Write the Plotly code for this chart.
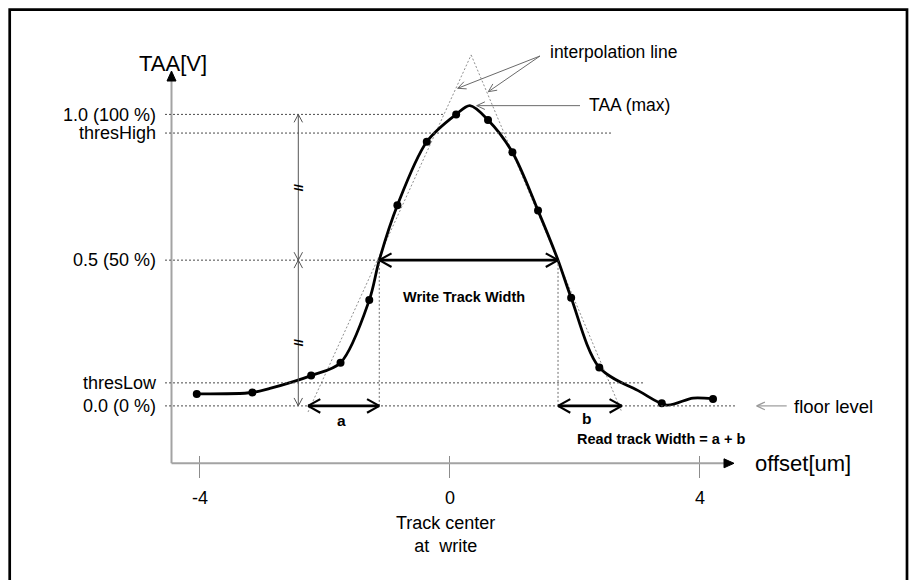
import math
import plotly.graph_objects as go

W, H = 913, 580

# ---------------- data ----------------
# measured TAA samples across the read offset
offset_um = [-4.05, -3.16, -2.22, -1.75, -1.29, -0.84, -0.37, 0.10, 0.61, 1.00, 1.41, 1.94, 2.39, 3.39, 4.21]
taa_v = [0.041, 0.046, 0.104, 0.148, 0.363, 0.688, 0.906, 1.000, 0.981, 0.870, 0.670, 0.371, 0.132, 0.009, 0.024]

# smoothed track profile (samples plus peak and 50 % crossings)
profile_um = [-4.05, -3.16, -2.88, -2.22, -1.75, -1.29, -1.13, -0.84, -0.37, 0.10, 0.32,
              0.61, 1.00, 1.41, 1.73, 1.94, 2.39, 3.04, 3.47, 3.89, 4.21]
profile_v = [0.041, 0.046, 0.060, 0.104, 0.148, 0.363, 0.500, 0.688, 0.906, 1.000, 1.030,
             0.981, 0.870, 0.670, 0.500, 0.371, 0.132, 0.049, 0.003, 0.027, 0.024]

# interpolation (tangent) lines through the flanks
interp_left_um = [-2.27, 0.34]
interp_left_v = [-0.021, 1.204]
interp_right_um = [0.34, 2.75]
interp_right_v = [1.204, -0.021]

peak_um, peak_v = 0.32, 1.030

level_values = [1.0, 0.936, 0.5, 0.079, 0.0]
level_labels = ["1.0 (100 %)", "thresHigh", "0.5 (50 %)", "thresLow", "0.0 (0 %)"]

half_left_um, half_right_um = -1.13, 1.73      # 50 % crossings (write track width)
floor_left_um, floor_right_um = -2.27, 2.75    # interpolation lines at floor level

x_tick_vals = [-4, 0, 4]
x_tick_text = ["-4", "0", "4"]

# ---------------- geometry helpers ----------------
PX_UM, X0_PX = 62.5, 449.9     # pixels per um, pixel column of 0 um
PX_V, Y0_PX = 291.5, 405.9     # pixels per volt-unit, pixel row of 0.0


def ux(px):
    return (px - X0_PX) / PX_UM


def vy(py):
    return (Y0_PX - py) / PX_V


shapes = []
annotations = []

REG = "Liberation Sans, Arial, sans-serif"
BOLD = "Liberation Sans Narrow, Arial Narrow, Liberation Sans, Arial, sans-serif"
BOLD_SIZE = 14.5


def seg(x0, y0, x1, y1, color="black", width=1.0, dash="solid"):
    shapes.append(dict(type="line", xref="x", yref="y", x0=x0, y0=y0, x1=x1, y1=y1,
                       line=dict(color=color, width=width, dash=dash), layer="above"))


def chevron(xt, yt, xf, yf, length, ang, color, width):
    """Open V head at (xt, yt) for a shaft coming from (xf, yf)."""
    dx = (xt - xf) * PX_UM
    dy = -(yt - yf) * PX_V
    n = math.hypot(dx, dy)
    bx, by = -dx / n, -dy / n
    for s in (1, -1):
        a = math.radians(ang) * s
        rx = bx * math.cos(a) - by * math.sin(a)
        ry = bx * math.sin(a) + by * math.cos(a)
        seg(xt, yt, xt + rx * length / PX_UM, yt - ry * length / PX_V, color, width)


def arrow(x0, y0, x1, y1, color, width, length, ang, both=False, head_w=None):
    seg(x0, y0, x1, y1, color, width)
    hw = head_w if head_w is not None else width
    chevron(x1, y1, x0, y0, length, ang, color, hw)
    if both:
        chevron(x0, y0, x1, y1, length, ang, color, hw)


def text(px, py, s, size, family=REG, anchor="center", color="black"):
    annotations.append(dict(x=ux(px), y=vy(py), xref="x", yref="y", text=s, showarrow=False,
                            xanchor=anchor, yanchor="middle",
                            font=dict(family=family, size=size, color=color)))


# ---------------- frame ----------------
shapes.append(dict(type="rect", xref="paper", yref="paper",
                   x0=9.7 / W, x1=907 / W, y0=-0.02, y1=1 - 9.7 / H,
                   line=dict(color="black", width=2.7), fillcolor="rgba(0,0,0,0)"))

# ---------------- axes with arrow tips ----------------
AX_GREY = "#a3a3a3"
y_axis_x = ux(171.5)
x_axis_y = vy(463.3)
seg(y_axis_x, x_axis_y, y_axis_x, vy(80), AX_GREY, 2)
seg(y_axis_x, x_axis_y, ux(725), x_axis_y, AX_GREY, 2)


def tri(points):
    p = "M " + " L ".join(f"{x},{y}" for x, y in points) + " Z"
    shapes.append(dict(type="path", xref="x", yref="y", path=p, fillcolor="black",
                       line=dict(color="black", width=1), layer="above"))


tri([(y_axis_x, vy(71)), (ux(167), vy(81)), (ux(176), vy(81))])
tri([(ux(734), x_axis_y), (ux(724), vy(458.8)), (ux(724), vy(467.8))])

# ---------------- guide levels ----------------
LEVEL_GREY = "#4a4a4a"
guide_start = ux(165)
level_ends = {1.0: -0.08, 0.936: ux(612), 0.5: half_left_um, 0.079: ux(643), 0.0: ux(737)}
for v in level_values:
    seg(guide_start, v, level_ends[v], v, LEVEL_GREY, 1, "2px,2px")

# vertical guides under the 50 % crossings
for xc in (half_left_um, half_right_um):
    seg(xc, 0.0, xc, 0.5, "#6e6e6e", 1, "2px,2px")

# ---------------- level span arrows with breaks ----------------
span_x = ux(298.3)
arrow(span_x, 0.5, span_x, 1.0, "#555555", 1, 9, 28, both=True)
arrow(span_x, 0.0, span_x, 0.5, "#555555", 1, 9, 28, both=True)
for yb in (vy(187), vy(342)):
    annotations.append(dict(x=span_x, y=yb, xref="x", yref="y", text="<b>//</b>", showarrow=False,
                            textangle=-90, font=dict(family=REG, size=13, color="black"),
                            xanchor="center", yanchor="middle"))

# ---------------- width arrows ----------------
arrow(half_left_um, 0.5, half_right_um, 0.5, "black", 2.8, 14, 29, both=True, head_w=2.2)
arrow(floor_left_um, 0.0, half_left_um, 0.0, "black", 2.8, 14, 29, both=True, head_w=2.2)
arrow(half_right_um, 0.0, floor_right_um, 0.0, "black", 2.8, 14, 29, both=True, head_w=2.2)

# ---------------- pointer arrows ----------------
PTR = "#6a6a6a"
arrow(ux(540), vy(56), ux(457.7), vy(88.3), PTR, 1, 9, 25)
arrow(ux(540), vy(56), ux(488.3), vy(91.7), PTR, 1, 9, 25)
arrow(ux(580), peak_v, ux(476.7), peak_v, PTR, 1, 9, 25)
arrow(ux(786.7), 0.0, ux(756.7), 0.0, "#9a9a9a", 1.2, 9, 25)

# ---------------- labels ----------------
text(173, 63, "TAA[V]", 22)
text(752.7, 463, "offset[um]", 22, anchor="left")
text(548, 52, "interpolation line", 17.5, anchor="left")
text(586.7, 105, "TAA (max)", 17.5, anchor="left")
text(791.7, 406.7, "floor level", 18.5, anchor="left")
text(464, 297, "<b>Write Track Width</b>", BOLD_SIZE, BOLD)
text(341.7, 420, "<b>a</b>", BOLD_SIZE + 1, BOLD)
text(586.7, 418, "<b>b</b>", BOLD_SIZE + 1, BOLD)
text(660.7, 439, "<b>Read track Width = a + b</b>", BOLD_SIZE, BOLD)
text(445, 534, "Track center<br>at  write", 18)

# ---------------- traces ----------------
fig = go.Figure()
fig.add_trace(go.Scatter(x=interp_left_um, y=interp_left_v, mode="lines",
                         line=dict(color="#8f8f8f", width=1, dash="2px,2px"), hoverinfo="skip"))
fig.add_trace(go.Scatter(x=interp_right_um, y=interp_right_v, mode="lines",
                         line=dict(color="#8f8f8f", width=1, dash="2px,2px"), hoverinfo="skip"))
fig.add_trace(go.Scatter(x=profile_um, y=profile_v, mode="lines",
                         line=dict(color="black", width=2.8, shape="spline", smoothing=0.9)))
fig.add_trace(go.Scatter(x=offset_um, y=taa_v, mode="markers",
                         marker=dict(color="black", size=8)))

fig.update_layout(
    template="none",
    width=W, height=H,
    margin=dict(l=0, r=0, t=0, b=0),
    paper_bgcolor="white", plot_bgcolor="white",
    showlegend=False,
    font=dict(family=REG, color="black"),
    shapes=shapes,
    annotations=annotations,
    xaxis=dict(range=[ux(0), ux(W)], domain=[0, 1], anchor="free", position=(H - 455) / H,
               showgrid=False, zeroline=False, showline=False,
               ticks="outside", ticklen=22, tickwidth=1, tickcolor="#8c8c8c",
               tickvals=x_tick_vals, ticktext=x_tick_text,
               tickfont=dict(family=REG, size=18, color="black"),
               ticklabelstandoff=4, automargin=False, fixedrange=True),
    yaxis=dict(range=[vy(H), vy(0)], domain=[0, 1], anchor="free", position=165 / W,
               showgrid=False, zeroline=False, showline=False, ticks="",
               tickvals=level_values, ticktext=level_labels,
               tickfont=dict(family=REG, size=18, color="black"),
               ticklabelstandoff=9, automargin=False, fixedrange=True),
)

fig.write_html("out.html")
